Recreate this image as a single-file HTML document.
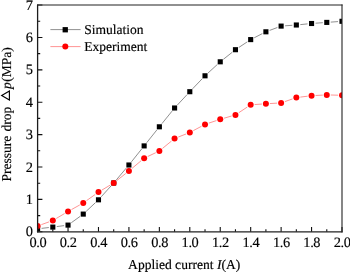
<!DOCTYPE html>
<html><head><meta charset="utf-8"><style>
html,body{margin:0;padding:0;background:#fff;}
svg{display:block;position:absolute;left:0;top:0;will-change:transform;}
text{font-family:"Liberation Serif",serif;font-size:13.55px;fill:#000;text-rendering:geometricPrecision;stroke:#000;stroke-width:0.16px;}
text.t{font-size:14.4px;stroke:#000;stroke-width:0.15px;}
</style></head><body>
<svg width="350" height="272" viewBox="0 0 350 272">
<rect width="350" height="272" fill="#fff"/>
<clipPath id="c"><rect x="37.6" y="5.05" width="304.4" height="226.75"/></clipPath>
<g clip-path="url(#c)">
<path d="M41.58 228.36L48.84 227.54M56.79 226.58L64.07 225.62M71.28 222.76L80.02 216.44M86.18 211.36L95.56 202.54M101.17 196.84L111.01 185.96M116.28 179.95L126.34 168.05M131.41 161.87L141.65 149.03M146.63 142.77L156.87 129.93M161.88 123.69L172.06 111.11M177.31 105.08L187.07 94.62M192.57 88.81L202.25 78.69M207.96 73.09L217.30 64.51M223.37 59.31L232.33 52.19M238.79 47.49L247.35 41.81M254.24 37.78L262.34 33.62M269.65 30.40L277.37 27.50M285.11 25.81L292.35 25.29M300.32 24.61L307.58 23.89M315.55 23.21L322.79 22.69M330.77 22.11L338.01 21.59" fill="none" stroke="#333" stroke-width="0.55"/>
<rect x="35.05" y="226.25" width="5.1" height="5.1" fill="#000"/>
<rect x="50.27" y="224.55" width="5.1" height="5.1" fill="#000"/>
<rect x="65.49" y="222.55" width="5.1" height="5.1" fill="#000"/>
<rect x="80.71" y="211.55" width="5.1" height="5.1" fill="#000"/>
<rect x="95.93" y="197.25" width="5.1" height="5.1" fill="#000"/>
<rect x="111.15" y="180.45" width="5.1" height="5.1" fill="#000"/>
<rect x="126.37" y="162.45" width="5.1" height="5.1" fill="#000"/>
<rect x="141.59" y="143.35" width="5.1" height="5.1" fill="#000"/>
<rect x="156.81" y="124.25" width="5.1" height="5.1" fill="#000"/>
<rect x="172.03" y="105.45" width="5.1" height="5.1" fill="#000"/>
<rect x="187.25" y="89.15" width="5.1" height="5.1" fill="#000"/>
<rect x="202.47" y="73.25" width="5.1" height="5.1" fill="#000"/>
<rect x="217.69" y="59.25" width="5.1" height="5.1" fill="#000"/>
<rect x="232.91" y="47.15" width="5.1" height="5.1" fill="#000"/>
<rect x="248.13" y="37.05" width="5.1" height="5.1" fill="#000"/>
<rect x="263.35" y="29.25" width="5.1" height="5.1" fill="#000"/>
<rect x="278.57" y="23.55" width="5.1" height="5.1" fill="#000"/>
<rect x="293.79" y="22.45" width="5.1" height="5.1" fill="#000"/>
<rect x="309.01" y="20.95" width="5.1" height="5.1" fill="#000"/>
<rect x="324.23" y="19.85" width="5.1" height="5.1" fill="#000"/>
<rect x="339.45" y="18.75" width="5.1" height="5.1" fill="#000"/>
<path d="M41.36 224.64L49.06 221.86M56.26 218.46L64.60 213.54M71.53 209.55L79.77 204.95M86.51 200.67L95.23 194.43M101.91 190.05L110.27 185.05M116.84 180.52L125.78 173.48M131.98 168.43L141.08 160.77M147.76 156.49L155.74 152.71M162.45 148.46L171.49 141.04M178.30 137.03L186.08 133.97M193.33 130.62L201.49 126.28M208.81 123.13L216.45 120.57M224.08 118.19L231.62 116.01M238.79 112.69L247.35 107.01M254.67 104.54L261.91 104.06M269.89 103.56L277.13 103.14M284.90 101.58L292.56 98.92M300.31 97.10L307.59 96.20M315.55 95.49L322.79 95.11M330.78 95.01L338.00 95.19" fill="none" stroke="#ff1010" stroke-width="0.45"/>
<circle cx="37.60" cy="226.00" r="3.0" fill="#ff0000"/>
<circle cx="52.82" cy="220.50" r="3.0" fill="#ff0000"/>
<circle cx="68.04" cy="211.50" r="3.0" fill="#ff0000"/>
<circle cx="83.26" cy="203.00" r="3.0" fill="#ff0000"/>
<circle cx="98.48" cy="192.10" r="3.0" fill="#ff0000"/>
<circle cx="113.70" cy="183.00" r="3.0" fill="#ff0000"/>
<circle cx="128.92" cy="171.00" r="3.0" fill="#ff0000"/>
<circle cx="144.14" cy="158.20" r="3.0" fill="#ff0000"/>
<circle cx="159.36" cy="151.00" r="3.0" fill="#ff0000"/>
<circle cx="174.58" cy="138.50" r="3.0" fill="#ff0000"/>
<circle cx="189.80" cy="132.50" r="3.0" fill="#ff0000"/>
<circle cx="205.02" cy="124.40" r="3.0" fill="#ff0000"/>
<circle cx="220.24" cy="119.30" r="3.0" fill="#ff0000"/>
<circle cx="235.46" cy="114.90" r="3.0" fill="#ff0000"/>
<circle cx="250.68" cy="104.80" r="3.0" fill="#ff0000"/>
<circle cx="265.90" cy="103.80" r="3.0" fill="#ff0000"/>
<circle cx="281.12" cy="102.90" r="3.0" fill="#ff0000"/>
<circle cx="296.34" cy="97.60" r="3.0" fill="#ff0000"/>
<circle cx="311.56" cy="95.70" r="3.0" fill="#ff0000"/>
<circle cx="326.78" cy="94.90" r="3.0" fill="#ff0000"/>
<circle cx="342.00" cy="95.30" r="3.0" fill="#ff0000"/>
</g>
<path d="M37.6 231.80h4.8 M37.6 215.60h2.6 M37.6 199.41h4.8 M37.6 183.21h2.6 M37.6 167.01h4.8 M37.6 150.82h2.6 M37.6 134.62h4.8 M37.6 118.42h2.6 M37.6 102.23h4.8 M37.6 86.03h2.6 M37.6 69.84h4.8 M37.6 53.64h2.6 M37.6 37.44h4.8 M37.6 21.25h2.6 M37.6 5.05h4.8 M37.60 231.8v-4.8 M52.82 231.8v-2.6 M68.04 231.8v-4.8 M83.26 231.8v-2.6 M98.48 231.8v-4.8 M113.70 231.8v-2.6 M128.92 231.8v-4.8 M144.14 231.8v-2.6 M159.36 231.8v-4.8 M174.58 231.8v-2.6 M189.80 231.8v-4.8 M205.02 231.8v-2.6 M220.24 231.8v-4.8 M235.46 231.8v-2.6 M250.68 231.8v-4.8 M265.90 231.8v-2.6 M281.12 231.8v-4.8 M296.34 231.8v-2.6 M311.56 231.8v-4.8 M326.78 231.8v-2.6 M342.00 231.8v-4.8" stroke="#111" stroke-width="1.1" fill="none"/>
<path d="M37.6 4.5V232.4" stroke="#1c1c1c" stroke-width="1.3" fill="none"/>
<path d="M36.95 231.8H342.55" stroke="#222" stroke-width="1.2" fill="none"/>
<path d="M36.95 5.05H342.55" stroke="#222" stroke-width="1.1" fill="none"/>
<path d="M342.0 4.5V232.4" stroke="#222" stroke-width="1.1" fill="none"/>
<text class="t" x="33.0" y="236.40" text-anchor="end">0</text>
<text class="t" x="33.0" y="204.01" text-anchor="end">1</text>
<text class="t" x="33.0" y="171.61" text-anchor="end">2</text>
<text class="t" x="33.0" y="139.22" text-anchor="end">3</text>
<text class="t" x="33.0" y="106.83" text-anchor="end">4</text>
<text class="t" x="33.0" y="74.44" text-anchor="end">5</text>
<text class="t" x="33.0" y="42.04" text-anchor="end">6</text>
<text class="t" x="33.0" y="9.65" text-anchor="end">7</text>
<text class="t" x="37.80" y="247.1" text-anchor="middle" style="letter-spacing:-0.4px">0.0</text>
<text class="t" x="68.24" y="247.1" text-anchor="middle" style="letter-spacing:-0.4px">0.2</text>
<text class="t" x="98.68" y="247.1" text-anchor="middle" style="letter-spacing:-0.4px">0.4</text>
<text class="t" x="129.12" y="247.1" text-anchor="middle" style="letter-spacing:-0.4px">0.6</text>
<text class="t" x="159.56" y="247.1" text-anchor="middle" style="letter-spacing:-0.4px">0.8</text>
<text class="t" x="190.00" y="247.1" text-anchor="middle" style="letter-spacing:-0.4px">1.0</text>
<text class="t" x="220.44" y="247.1" text-anchor="middle" style="letter-spacing:-0.4px">1.2</text>
<text class="t" x="250.88" y="247.1" text-anchor="middle" style="letter-spacing:-0.4px">1.4</text>
<text class="t" x="281.32" y="247.1" text-anchor="middle" style="letter-spacing:-0.4px">1.6</text>
<text class="t" x="311.76" y="247.1" text-anchor="middle" style="letter-spacing:-0.4px">1.8</text>
<text class="t" x="342.20" y="247.1" text-anchor="middle" style="letter-spacing:-0.4px">2.0</text>
<text x="128.1" y="268.9">Applied current <tspan font-style="italic">I</tspan>(A)</text>
<text transform="translate(11.2,181.6) rotate(-90)">Pressure</text>
<text transform="translate(11.2,131.6) rotate(-90)">drop</text>
<path d="M9.4 91.1 L9.4 99.9 L1.7 95.5 Z" fill="none" stroke="#000" stroke-width="1.15" stroke-linejoin="miter"/>
<text transform="translate(11.2,89.0) rotate(-90)" font-style="italic">p</text>
<text transform="translate(11.2,81.8) rotate(-90)">(MPa)</text>
<path d="M50.4 29.6H80.6" stroke="#333" stroke-width="0.55"/>
<rect x="62.6" y="27.1" width="5.3" height="5.3" fill="#000"/>
<path d="M50.4 46.6H80.6" stroke="#ff1010" stroke-width="0.45"/>
<circle cx="65.3" cy="46.6" r="3" fill="#f00"/>
<text x="84.2" y="34.1">Simulation</text>
<text x="84.2" y="51">Experiment</text>
</svg>
</body></html>
